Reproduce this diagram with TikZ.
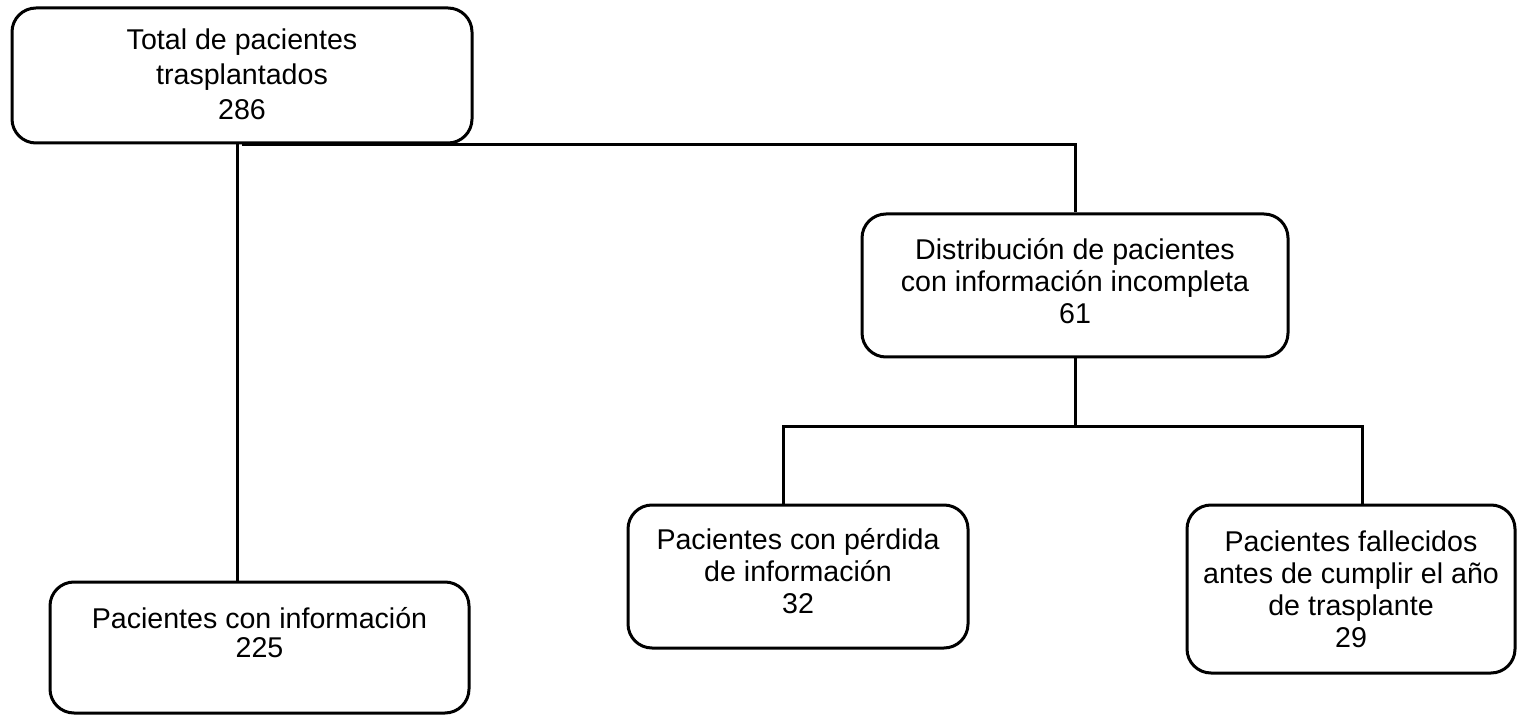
\documentclass[tikz,border=0pt]{standalone}
\usepackage{fontspec}
\setmainfont{Liberation Sans}
\usetikzlibrary{positioning}
% width, height, first baseline, text
\newcommand{\boxtext}[4]{\parbox[c][#2][t]{#1}{\centering\rule{0pt}{#3}#4}}

\begin{document}
\begin{tikzpicture}[x=0.5pt, y=-0.5pt,
		stage/.style={draw, line width=1.5pt, rounded corners=12pt, inner sep=0pt, font=\fontsize{14.3}{16}\selectfont},
		link/.style={line width=1.5pt}
		]
		\useasboundingbox (0,0) rectangle (1518,715);
		\node[stage, font=\fontsize{14.3}{17.5}\selectfont] (total) at (242,75.5) {\boxtext{230pt}{67.5pt}{21pt}{Total de pacientes\\trasplantados\\286}};
		\node[stage] (dist) at (1075,285.5) {\boxtext{213pt}{71.5pt}{23pt}{Distribución de pacientes\\con información incompleta\\61}};
		\node[stage, font=\fontsize{14.3}{14.5}\selectfont] (info) at (259.5,647.5) {\boxtext{209.5pt}{65.5pt}{23pt}{Pacientes con información\\225}};
		\node[stage] (loss) at (798,576.5) {\boxtext{170pt}{71.5pt}{22pt}{Pacientes con pérdida\\de información\\32}};
		\node[stage] (dead) at (1351,589) {\boxtext{164pt}{84pt}{23pt}{Pacientes fallecidos\\antes de cumplir el año\\de trasplante\\29}};
		\coordinate (fork) at (1075,427);
		
		\draw[link] ([xshift=-2.5pt]total.south) -- ([xshift=-2.5pt]total.south |- info.north);
		\draw[link] (total.south) -- (total.south -| dist.north) -- (dist.north);
		\draw[link] (dist.south) -- (fork);
		\draw[link] ([xshift=-7.5pt]loss.north) |- (fork) -| ([xshift=5.5pt]dead.north);
		
\end{tikzpicture}
\end{document}
